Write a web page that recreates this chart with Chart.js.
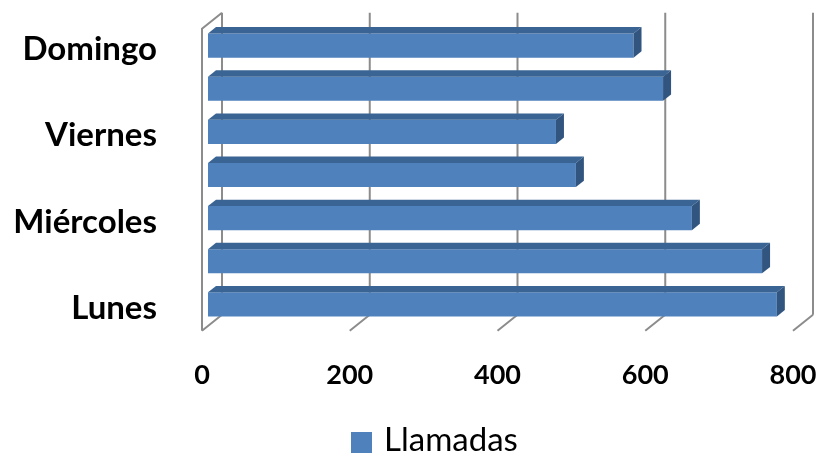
<!DOCTYPE html>
<html>
<head>
<meta charset="utf-8">
<title>Llamadas</title>
<script src="https://cdn.jsdelivr.net/npm/chart.js@4.4.1/dist/chart.umd.min.js"></script>
<style>
  html, body { margin: 0; padding: 0; background: #fff; }
  #wrap { width: 818px; height: 455px; }
</style>
</head>
<body>
<div id="wrap"><canvas id="chart" width="818" height="455"></canvas></div>
<script>
const dias = ['Lunes', 'Martes', 'Miércoles', 'Jueves', 'Viernes', 'Sábado', 'Domingo'];
const llamadas = [770, 750, 655, 498, 471, 616, 576];
const ticksX = [0, 200, 400, 600, 800];

// fake 3D: depth of the plot box, and the slice of it the bars occupy
const DEPTH_X = 20, DEPTH_Y = 16;
const BAR_FRONT = 0.3, BAR_BACK = 0.7;

const walls = {
  id: 'walls',
  beforeDatasetsDraw(chart) {
    const {ctx, chartArea, scales} = chart;
    const fx = v => scales.x.getPixelForValue(v) - BAR_FRONT * DEPTH_X;
    const top = chartArea.top + BAR_FRONT * DEPTH_Y;
    const bottom = chartArea.bottom + BAR_FRONT * DEPTH_Y;
    ctx.save();
    ctx.strokeStyle = '#8c8c8c';
    ctx.lineWidth = 2;
    ctx.beginPath();
    ticksX.forEach(v => {
      // back wall gridline
      ctx.moveTo(fx(v) + DEPTH_X, top - DEPTH_Y);
      ctx.lineTo(fx(v) + DEPTH_X, bottom - DEPTH_Y);
      // floor tick
      ctx.moveTo(fx(v), bottom);
      ctx.lineTo(fx(v) + DEPTH_X, bottom - DEPTH_Y);
    });
    // left side wall outline
    ctx.moveTo(fx(0), bottom);
    ctx.lineTo(fx(0), top);
    ctx.lineTo(fx(0) + DEPTH_X, top - DEPTH_Y);
    ctx.stroke();
    ctx.restore();
  }
};

const bars3d = {
  id: 'bars3d',
  afterDatasetsDraw(chart) {
    const ctx = chart.ctx;
    const dx = (BAR_BACK - BAR_FRONT) * DEPTH_X;
    const dy = (BAR_BACK - BAR_FRONT) * DEPTH_Y;
    ctx.save();
    chart.getDatasetMeta(0).data.forEach(bar => {
      const {x, y, base, height} = bar.getProps(['x', 'y', 'base', 'height'], true);
      const t = y - height / 2, b = y + height / 2;
      // top face
      ctx.fillStyle = '#3a6494';
      ctx.beginPath();
      ctx.moveTo(base, t);
      ctx.lineTo(x, t);
      ctx.lineTo(x + dx, t - dy);
      ctx.lineTo(base + dx, t - dy);
      ctx.closePath();
      ctx.fill();
      // end face
      ctx.fillStyle = '#31557f';
      ctx.beginPath();
      ctx.moveTo(x, t);
      ctx.lineTo(x + dx, t - dy);
      ctx.lineTo(x + dx, b - dy);
      ctx.lineTo(x, b);
      ctx.closePath();
      ctx.fill();
    });
    ctx.restore();
  }
};

// legend sits off-centre in the original, so it is drawn by hand
const legendBox = {
  id: 'legendBox',
  afterDraw(chart) {
    const ctx = chart.ctx;
    const ds = chart.data.datasets[0];
    ctx.save();
    ctx.fillStyle = ds.backgroundColor;
    ctx.fillRect(351, 432, 21, 21);
    ctx.fillStyle = '#000';
    ctx.font = '33px Lato';
    ctx.textBaseline = 'alphabetic';
    ctx.fillText(ds.label, 384, 451);
    ctx.restore();
  }
};

new Chart(document.getElementById('chart'), {
  type: 'bar',
  data: {
    labels: dias,
    datasets: [{
      label: 'Llamadas',
      data: llamadas,
      backgroundColor: '#4f81bd',
      borderWidth: 0,
      categoryPercentage: 1,
      barPercentage: 0.56
    }]
  },
  options: {
    indexAxis: 'y',
    responsive: false,
    animation: false,
    devicePixelRatio: 1,
    layout: { padding: { left: 0, right: 19, top: 24, bottom: 0 } },
    plugins: {
      tooltip: { enabled: false },
      legend: { display: false }
    },
    scales: {
      x: {
        min: 0,
        max: 800,
        afterBuildTicks: s => { s.ticks = ticksX.map(v => ({ value: v })); },
        grid: { display: false, drawTicks: false, tickLength: 0 },
        border: { display: false },
        ticks: {
          font: { family: 'Lato', size: 27, weight: 'bold' },
          color: '#000',
          padding: 33,
          labelOffset: -6,
          maxRotation: 0
        },
        afterFit: s => { s.height = 129; s.paddingLeft = 0; s.paddingRight = 0; }
      },
      y: {
        reverse: true,
        grid: { display: false, drawTicks: false, tickLength: 0 },
        border: { display: false },
        ticks: {
          autoSkip: false,
          callback: (v, i) => (i % 2 === 0 ? dias[i] : ''),
          font: { family: 'Lato', size: 33, weight: 'bold' },
          color: '#000',
          padding: 51,
          labelOffset: 4
        },
        afterFit: s => { s.width = 208; s.paddingTop = 0; s.paddingBottom = 0; }
      }
    }
  },
  plugins: [walls, bars3d, legendBox]
});
</script>
</body>
</html>
